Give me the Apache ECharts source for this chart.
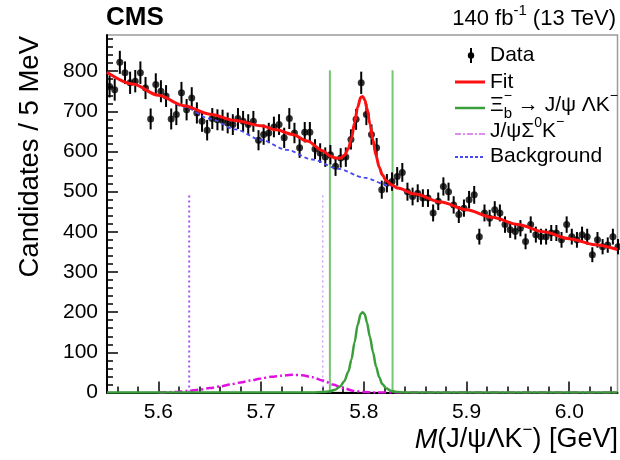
<!DOCTYPE html>
<html><head><meta charset="utf-8">
<script src="https://cdn.jsdelivr.net/npm/echarts@6/dist/echarts.min.js"></script>
<style>html,body{margin:0;padding:0;background:#fff}#c{width:620px;height:460px}</style>
</head><body><div id="c"></div>
<script>
// ---------- data ----------
const binStart = 5.5525;   // first bin centre [GeV]
const binWidth = 0.005;    // 5 MeV bins
const counts = [762,754,822,796,771,775,796,758,681,767,
  750,738,681,692,746,704,733,696,675,653,
  682,679,678,671,667,682,675,667,675,628,
  642,646,661,667,634,682,646,609,648,648,
  606,596,586,592,563,584,586,630,680,771,
  692,642,609,505,521,525,538,548,500,488,
  496,484,484,447,476,513,500,467,443,459,
  480,492,388,447,434,455,447,418,405,401,
  409,376,418,393,388,388,397,397,380,418,
  388,380,393,388,343,380,363,367,388,363];

const bkgMass = [5.55,5.575,5.60,5.625,5.65,5.675,5.70,5.725,5.75,5.775,5.80,5.825,5.85,5.875,5.90,5.925,5.95,5.975,6.00,6.025,6.047];
const bkgVal  = [797,768,740,711,682,655,629,604,580,557,535,515,494,474,455,436,418,400,383,368,356];

const fitMass = [5.55,5.575,5.60,5.625,5.65,5.675,5.70,5.715,5.73,5.745,5.76,5.767,5.772,5.777,5.781,5.785,5.788,5.791,5.794,5.797,5.799,5.801,5.803,5.806,5.809,5.812,5.815,5.818,5.822,5.827,5.833,5.85,5.875,5.90,5.925,5.95,5.975,6.00,6.025,6.047];
const fitVal  = [797,768,740,714,693,677,664,654,643,626,602,589,584,583,590,607,633,671,710,735,737,728,708,668,628,589,561,542,527,517,509,494,474,455,436,418,400,383,368,356];

const sigMass = [5.55,5.75,5.76,5.767,5.772,5.777,5.781,5.785,5.788,5.791,5.794,5.797,5.799,5.801,5.803,5.806,5.809,5.812,5.815,5.818,5.822,5.827,5.833,5.84,6.047];
const sigVal  = [0,0,1,3,7,15,28,52,82,125,168,196,200,194,175,138,100,64,38,21,10,4,1,0,0];

const refMass = [5.60,5.615,5.63,5.64,5.65,5.66,5.67,5.68,5.69,5.70,5.71,5.72,5.73,5.74,5.75,5.76,5.77,5.78,5.79,5.80,5.81,6.047];
const refVal  = [0,1,4,7,11,15,20,25,30,35,39,42,44,43,38,30,20,11,4,1,0,0];

const windowEdges = [5.767, 5.828];  const windowTop = 802;
const refEdges = [5.63, 5.76];       const refTop = 495;

const xTickLabels = [5.6, 5.7, 5.8, 5.9, 6.0];
const yTickLabels = [0, 100, 200, 300, 400, 500, 600, 700, 800];
const xMin = 5.55, xMax = 6.047, yMin = 0, yMax = 890;

// ---------- helpers ----------
const FF = '"Liberation Sans", Arial, Helvetica, sans-serif';
const mc = document.createElement('canvas').getContext('2d');
function fontStr(p){ return (p.italic?'italic ':'') + (p.bold?'bold ':'') + p.size + 'px ' + FF; }
function measure(p){ mc.font = fontStr(p); return mc.measureText(p.t).width; }
function textRun(parts, x, y, align){
  const w = parts.map(measure);
  let cur = 0, lastStart = 0; const sx = [];
  parts.forEach((p,i)=>{ let s; if (p.stack) s = lastStart; else { s = cur; lastStart = s; } sx.push(s); cur = Math.max(cur, s + w[i]); });
  const x0 = align === 'right' ? x - cur : x;
  return parts.map((p,i)=>({type:'text', x: x0 + sx[i], y: y + (p.dy||0), silent:true, z:100,
    style:{text:p.t, font:fontStr(p), fill:'#000', textAlign:'left', textVerticalAlign:'middle'}}));
}
const zip = (a,b)=>a.map((v,i)=>[v,b[i]]);
const xMinor = []; for (let k=278;k<=302;k++){ if (k%5!==0) xMinor.push(Math.round(k*2)/100); }
const yMinor = []; for (let v=20; v<yMax; v+=20){ if (v%100!==0) yMinor.push(v); }

const dataPts = counts.map((c,i)=>[Math.round((binStart + i*binWidth)*10000)/10000, c]);

const RED='#ff1010', GREEN='#3a9e3a', GREENV='#74c874', MAG='#e010e0', BLUE='#4848f0', VIO='#a855f7', VIO2='#cfa6f5';

// ---------- chart ----------
const chart = echarts.init(document.getElementById('c'), null, {renderer:'canvas'});
const axisCommon = {type:'value', splitLine:{show:false}};
const option = {
  animation:false,
  backgroundColor:'#fff',
  grid:{left:107, top:35, width:510.5, height:357.5, show:true, borderColor:'#9a9a9a', borderWidth:1.5},
  xAxis:[
    Object.assign({}, axisCommon, {min:xMin, max:xMax, position:'bottom',
      axisLine:{show:true, onZero:false, lineStyle:{color:'#000', width:2}},
      axisTick:{show:true, inside:true, length:11, customValues:xTickLabels, lineStyle:{color:'#000', width:1.5}},
      axisLabel:{show:true, customValues:xTickLabels, formatter:v=>v.toFixed(1), fontFamily:FF, fontSize:21, color:'#000', margin:9}}),
    Object.assign({}, axisCommon, {min:xMin, max:xMax, position:'bottom',
      axisLine:{show:false, onZero:false},
      axisTick:{show:true, inside:true, length:6, customValues:xMinor, lineStyle:{color:'#000', width:1.5}},
      axisLabel:{show:false}})
  ],
  yAxis:[
    Object.assign({}, axisCommon, {min:yMin, max:yMax, position:'left',
      axisLine:{show:true, onZero:false, lineStyle:{color:'#000', width:2}},
      axisTick:{show:true, inside:true, length:11, customValues:yTickLabels, lineStyle:{color:'#000', width:1.5}},
      axisLabel:{show:true, customValues:yTickLabels, fontFamily:FF, fontSize:21, color:'#000', margin:9}}),
    Object.assign({}, axisCommon, {min:yMin, max:yMax, position:'left',
      axisLine:{show:false, onZero:false},
      axisTick:{show:true, inside:true, length:6, customValues:yMinor, lineStyle:{color:'#000', width:1.5}},
      axisLabel:{show:false}})
  ],
  series:[
    {type:'custom', xAxisIndex:0, yAxisIndex:0, data:dataPts, z:3, silent:true,
      renderItem:function(params, api){
        const x = api.value(0), y = api.value(1), e = Math.sqrt(y);
        const p1 = api.coord([x, y - e]), p2 = api.coord([x, y + e]);
        return {type:'line', shape:{x1:p1[0], y1:p1[1], x2:p2[0], y2:p2[1]}, style:{stroke:'#000', lineWidth:2}};
      }},
    {type:'scatter', xAxisIndex:0, yAxisIndex:0, data:dataPts, symbol:'circle', symbolSize:7, z:3, clip:false,
      itemStyle:{color:'#000'}, silent:true},
    ...refEdges.map((m,i)=>({type:'line', data:[[m,0],[m,refTop]], showSymbol:false, z:2, silent:true,
      lineStyle:{color: i===0?VIO:VIO2, width: i===0?2:1.5, type:[2,3]}})),
    ...windowEdges.map(m=>({type:'line', data:[[m,0],[m,windowTop]], showSymbol:false, z:2, silent:true,
      lineStyle:{color:GREENV, width:2, type:'solid'}})),
    {type:'line', data:zip(bkgMass,bkgVal), showSymbol:false, smooth:0.3, smoothMonotone:'x', z:4, silent:true,
      lineStyle:{color:BLUE, width:1.8, type:[4,3]}},
    {type:'line', data:zip(refMass,refVal), showSymbol:false, smooth:0.3, smoothMonotone:'x', z:4, silent:true,
      lineStyle:{color:MAG, width:2.5, type:[8,3,2,3]}},
    {type:'line', data:zip(sigMass,sigVal), showSymbol:false, smooth:0.3, smoothMonotone:'x', z:4, silent:true,
      lineStyle:{color:GREEN, width:2.5}},
    {type:'line', data:zip(fitMass,fitVal), showSymbol:false, smooth:0.3, smoothMonotone:'x', z:5, silent:true,
      lineStyle:{color:RED, width:3}}
  ],
  graphic:[].concat(
    textRun([{t:'CMS', size:26, bold:true}], 106, 18),
    textRun([{t:'140 fb', size:22}, {t:'-1', size:15, dy:-8}, {t:' (13 TeV)', size:22}], 616, 19, 'right'),
    textRun([{t:'M', size:27, italic:true}, {t:'(J/\u03c8\u039bK', size:27}, {t:'\u2212', size:17, dy:-10}, {t:') [GeV]', size:27}], 618, 440, 'right'),
    [{type:'text', x:30, y:36, rotation:Math.PI/2, silent:true,
      style:{text:'Candidates / 5 MeV', font:'27.5px '+FF, fill:'#000', textAlign:'right', textVerticalAlign:'middle'}}],
    // legend
    [{type:'line', shape:{x1:471,y1:48,x2:471,y2:63}, style:{stroke:'#000', lineWidth:2}, silent:true},
     {type:'circle', shape:{cx:471, cy:55.5, r:3.2}, style:{fill:'#000'}, silent:true},
     {type:'line', shape:{x1:455,y1:82,x2:485,y2:82}, style:{stroke:RED, lineWidth:3}, silent:true},
     {type:'line', shape:{x1:455,y1:108,x2:485,y2:108}, style:{stroke:GREEN, lineWidth:2.5}, silent:true},
     {type:'line', shape:{x1:455,y1:134,x2:485,y2:134}, style:{stroke:'#d36ae8', lineWidth:1.5, lineDash:[6,2,2,2]}, silent:true},
     {type:'line', shape:{x1:455,y1:157,x2:485,y2:157}, style:{stroke:BLUE, lineWidth:1.8, lineDash:[3,2]}, silent:true}],
    textRun([{t:'Data', size:21}], 490, 55),
    textRun([{t:'Fit', size:21}], 490, 82),
    textRun([{t:'\u039e', size:21}, {t:'\u2212', size:14, dy:-9}, {t:'b', size:15, dy:9, stack:true}, {t:' \u2192 J/\u03c8 \u039bK', size:21}, {t:'\u2212', size:14, dy:-9}], 490, 105),
    textRun([{t:'J/\u03c8\u03a3', size:21}, {t:'0', size:14, dy:-8}, {t:'K', size:21}, {t:'\u2212', size:14, dy:-9}], 490, 131),
    textRun([{t:'Background', size:21}], 490, 156)
  )
};
chart.setOption(option);
</script>
</body></html>
